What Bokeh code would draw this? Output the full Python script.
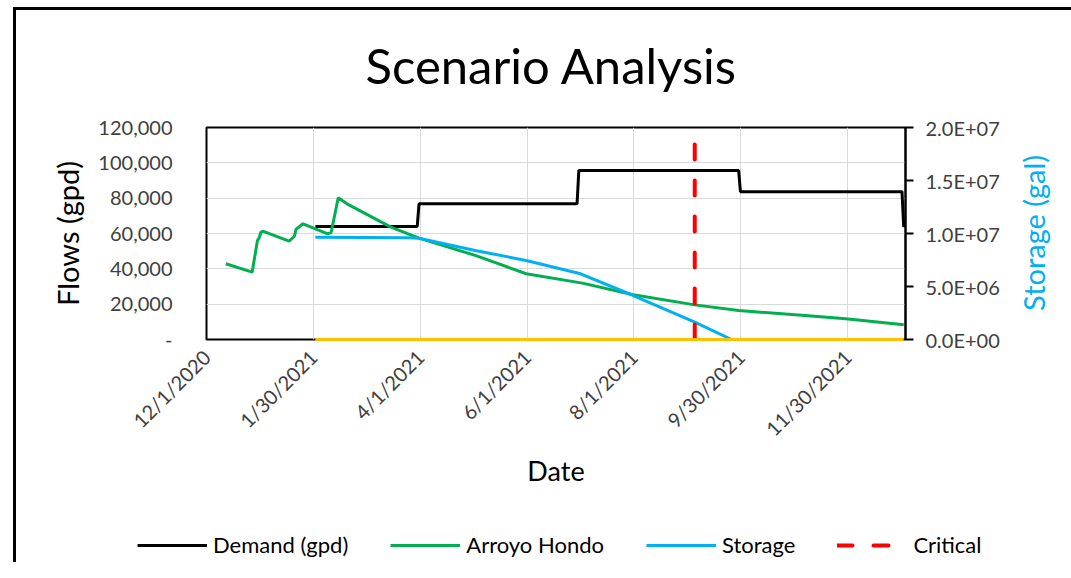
import math
import pandas as pd
from bokeh.plotting import figure
from bokeh.layouts import column
from bokeh.models import (Range1d, LinearAxis, FixedTicker, Legend, LegendItem,
                          InlineStyleSheet)
from bokeh.embed import file_html
from bokeh.resources import INLINE

# ---------------- data ----------------
BASE_DATE = "2020-12-01"

demand_dates = ["2021-02-01", "2021-03-31", "2021-04-01", "2021-06-30", "2021-07-01",
                "2021-09-30", "2021-10-01", "2022-01-01", "2022-01-02"]
demand_gpd = [64000, 64000, 76800, 76800, 95700, 95700, 83700, 83700, 63600]

arroyo_dates = ["2020-12-12", "2020-12-27", "2020-12-30", "2020-12-31", "2021-01-01",
                "2021-01-02", "2021-01-17", "2021-01-20", "2021-01-21", "2021-01-25",
                "2021-02-01", "2021-02-08", "2021-02-10", "2021-02-14", "2021-02-19",
                "2021-03-16", "2021-04-01", "2021-05-03", "2021-06-01", "2021-07-03",
                "2021-08-01", "2021-09-05", "2021-09-30", "2021-11-05", "2021-11-30",
                "2022-01-02"]
arroyo_gpd = [42850, 38100, 56000, 57500, 60700,
              61300, 55650, 58300, 62400, 65500,
              62600, 59800, 60700, 80200, 76800,
              63600, 57400, 47600, 37200, 31900,
              25300, 19600, 16400, 13700, 11700,
              8300]

storage_dates = ["2021-02-01", "2021-03-26", "2021-04-01", "2021-05-03", "2021-06-01",
                 "2021-07-02", "2021-08-01", "2021-09-05", "2021-09-26"]
storage_gal = [9.65e6, 9.6e6, 9.56e6, 8.4e6, 7.45e6, 6.2e6, 4.15e6, 1.63e6, 0.0]

deficit_dates = ["2021-02-01", "2022-01-02"]
deficit_gpd = [0, 0]

critical_dates = ["2021-09-05", "2021-09-05"]
critical_gpd = [0, 111000]

x_tick_labels = ["12/1/2020", "1/30/2021", "4/1/2021", "6/1/2021", "8/1/2021",
                 "9/30/2021", "11/30/2021"]
x_tick_step_days = 365 / 6
x_max_days = 398

left_ticks = [0, 20000, 40000, 60000, 80000, 100000, 120000]
left_tick_labels = ["-", "20,000", "40,000", "60,000", "80,000", "100,000", "120,000"]
right_ticks = [0, 5000000, 10000000, 15000000, 20000000]
right_tick_labels = ["0.0E+00", "5.0E+06", "1.0E+07", "1.5E+07", "2.0E+07"]

series_names = ["Demand (gpd)", "Arroyo Hondo", "Storage", "Critical"]
storage_title = "Storage (gal)"


def to_days(dates):
    return [int((pd.Timestamp(d) - pd.Timestamp(BASE_DATE)).days) for d in dates]


FONT = "Lato"
W = 1071
H_MAIN = 527
H_LEG = 35
FRAME_L, FRAME_R, FRAME_T, FRAME_B = 206, 910, 127, 339
STORAGE_TITLE_START = 2700000   # where the bottom-to-top storage title starts

C_DEM, C_ARR, C_STO, C_DEF, C_CRIT = "black", "#00B050", "#00B0F0", "#FFC000", "#FF0000"

# ---------------- main figure ----------------
p = figure(width=W, height=H_MAIN, output_backend="svg", toolbar_location=None,
           x_range=Range1d(0, x_max_days), y_range=Range1d(0, 120000),
           min_border_left=FRAME_L, min_border_right=W - FRAME_R, min_border_top=FRAME_T,
           min_border_bottom=H_MAIN - FRAME_B)
p.extra_y_ranges = {"storage": Range1d(0, 20000000)}
p.frame_align = False

p.outline_line_color = "black"
p.outline_line_width = 2
p.background_fill_color = "white"
p.border_fill_alpha = 0

# outer chart frame (left and top edges are visible in the picture)
p.stylesheets = [InlineStyleSheet(css=(
    ":host { background-color: white;"
    " background-image: linear-gradient(#000, #000), linear-gradient(#000, #000);"
    " background-size: 3px 100%, 100% 3px;"
    " background-position: 13px 7px, 13px 7px;"
    " background-repeat: no-repeat; }"))]

p.title.text = "Scenario Analysis"
p.title.align = "left"
p.title.offset = 159
p.title.text_font = FONT
p.title.text_font_size = "49px"
p.title.text_font_style = "normal"
p.title.text_color = "black"
p.title.standoff = 67

# x axis
xt = [i * x_tick_step_days for i in range(len(x_tick_labels))]
xa = p.xaxis[0]
xa.ticker = FixedTicker(ticks=xt)
xa.major_label_overrides = {t: lab for t, lab in zip(xt, x_tick_labels)}
xa.major_label_orientation = math.pi / 4
xa.axis_line_color = None
xa.major_tick_line_color = None
xa.minor_tick_line_color = None
xa.major_label_text_font = FONT
xa.major_label_text_font_size = "20px"
xa.major_label_text_color = "#404040"
xa.major_label_standoff = 8
xa.axis_label = "Date"
xa.axis_label_text_font = FONT
xa.axis_label_text_font_size = "27px"
xa.axis_label_text_font_style = "normal"
xa.axis_label_text_color = "black"
xa.axis_label_standoff = 2

# left axis
ya = p.yaxis[0]
ya.ticker = FixedTicker(ticks=left_ticks)
ya.major_label_overrides = {t: lab for t, lab in zip(left_ticks, left_tick_labels)}
ya.axis_line_color = None
ya.major_tick_line_color = None
ya.minor_tick_line_color = None
ya.major_label_text_font = FONT
ya.major_label_text_font_size = "20px"
ya.major_label_text_color = "#404040"
ya.major_label_standoff = 28
ya.axis_label = "Flows (gpd)"
ya.axis_label_text_font = FONT
ya.axis_label_text_font_size = "29px"
ya.axis_label_text_font_style = "normal"
ya.axis_label_text_color = "black"
ya.axis_label_standoff = 10

# right axis: ticks, tick labels and axis line
ra = LinearAxis(y_range_name="storage", ticker=FixedTicker(ticks=right_ticks))
ra.major_label_overrides = {t: lab for t, lab in zip(right_ticks, right_tick_labels)}
ra.axis_line_color = "black"
ra.axis_line_width = 2
ra.major_tick_line_color = "black"
ra.major_tick_line_width = 2
ra.major_tick_out = 8
ra.major_tick_in = 0
ra.minor_tick_line_color = None
ra.major_label_text_font = FONT
ra.major_label_text_font_size = "20px"
ra.major_label_text_color = "#404040"
ra.major_label_standoff = 12
p.add_layout(ra, "right")

# right axis title, read bottom-to-top, drawn as the single label of a bare axis
rl = LinearAxis(y_range_name="storage", ticker=FixedTicker(ticks=[STORAGE_TITLE_START]))
rl.major_label_overrides = {STORAGE_TITLE_START: storage_title}
rl.major_label_orientation = math.pi / 2
rl.axis_line_color = None
rl.major_tick_line_color = None
rl.major_tick_out = 0
rl.major_tick_in = 0
rl.minor_tick_line_color = None
rl.major_label_text_font = FONT
rl.major_label_text_font_size = "29px"
rl.major_label_text_color = C_STO
rl.major_label_standoff = 31
p.add_layout(rl, "right")

# grid
p.xgrid.ticker = FixedTicker(ticks=xt)
p.ygrid.ticker = FixedTicker(ticks=left_ticks)
p.grid.grid_line_color = "#D9D9D9"
p.grid.grid_line_width = 1

# ---------------- series ----------------
p.line(to_days(demand_dates), demand_gpd, line_color=C_DEM, line_width=3)
p.line(to_days(arroyo_dates), arroyo_gpd, line_color=C_ARR, line_width=3)
p.line(to_days(storage_dates), storage_gal, line_color=C_STO, line_width=3,
       y_range_name="storage")
p.line(to_days(deficit_dates), deficit_gpd, line_color=C_DEF, line_width=3, level="overlay")
p.line(to_days(critical_dates), critical_gpd, line_color=C_CRIT, line_width=4,
       line_dash="15 21", line_cap="round")

# ---------------- legend strip (below the chart) ----------------
lf = figure(width=W, height=H_LEG, output_backend="svg", toolbar_location=None,
            x_range=Range1d(0, 1), y_range=Range1d(0, 1), min_border=0)
lf.frame_align = False
lf.axis.visible = False
lf.grid.visible = False
lf.outline_line_color = None
lf.background_fill_alpha = 0
lf.border_fill_alpha = 0
lf.stylesheets = [InlineStyleSheet(css=(
    ":host { background-color: white;"
    " background-image: linear-gradient(#000, #000);"
    " background-size: 3px 100%;"
    " background-position: 13px 0px;"
    " background-repeat: no-repeat; }"))]

# legend key renderers: placed outside the strip's range so only the legend shows them
off = [-5, -4]
leg_r = [lf.line(off, off, line_color=C_DEM, line_width=3),
         lf.line(off, off, line_color=C_ARR, line_width=3),
         lf.line(off, off, line_color=C_STO, line_width=3),
         lf.line(off, off, line_color=C_CRIT, line_width=4, line_dash="15 21",
                 line_cap="round")]
legend = Legend(items=[LegendItem(label=n, renderers=[r]) for n, r in zip(series_names, leg_r)],
                orientation="horizontal", location=(137, 4),
                glyph_width=70, glyph_height=20, label_standoff=6, spacing=42,
                padding=0, margin=0, border_line_color=None,
                background_fill_alpha=0, label_text_font=FONT,
                label_text_font_size="22px", label_text_color="black")
lf.add_layout(legend, "center")

layout = column(p, lf, spacing=0)
open("out.html", "w").write(file_html(layout, INLINE))
